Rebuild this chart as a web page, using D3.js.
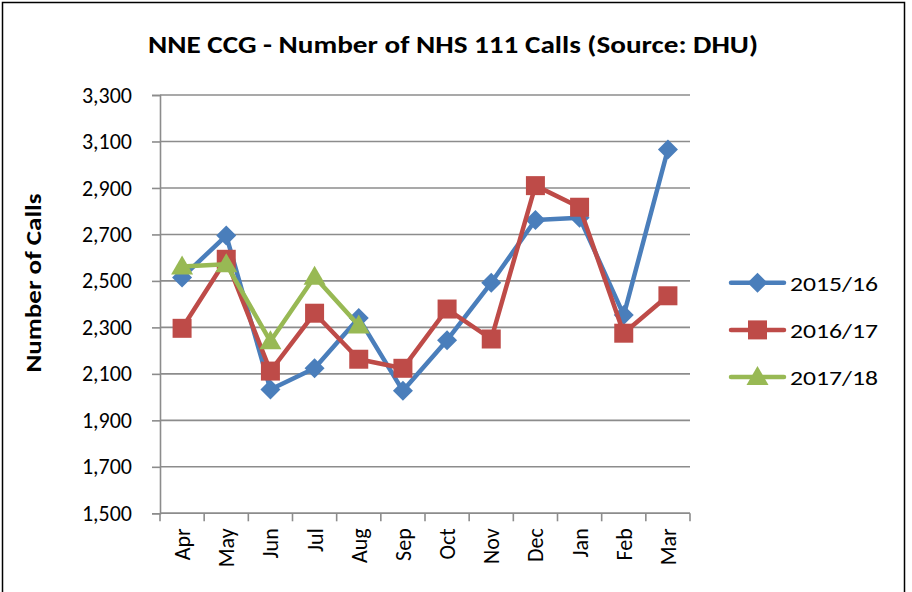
<!DOCTYPE html>
<html>
<head>
<meta charset="utf-8">
<script src="https://cdn.jsdelivr.net/npm/d3@7"></script>
<style>
  html, body { margin: 0; padding: 0; background: #fff; }
  svg { display: block; }
  text { font-family: Carlito, Calibri, "Open Sans", "Liberation Sans", sans-serif; fill: #000; }
</style>
</head>
<body>
<svg id="chart" width="912" height="592"></svg>
<script>
// Monthly NHS 111 call counts for NNE CCG, by financial year
const months = ["Apr", "May", "Jun", "Jul", "Aug", "Sep", "Oct", "Nov", "Dec", "Jan", "Feb", "Mar"];
const calls2015 = [2515, 2695, 2033, 2124, 2340, 2027, 2245, 2492, 2762, 2772, 2353, 3066];
const calls2016 = [2296, 2593, 2112, 2361, 2163, 2124, 2379, 2250, 2910, 2817, 2275, 2436];
const calls2017 = [2562, 2572, 2240, 2518, 2308];
const seriesNames = ["2015/16", "2016/17", "2017/18"];
const yTicks = [1500, 1700, 1900, 2100, 2300, 2500, 2700, 2900, 3100, 3300];
const chartTitle = "NNE CCG - Number of NHS 111 Calls (Source: DHU)";
const yTitle = "Number of Calls";

const series = [
  { name: seriesNames[0], values: calls2015, color: "#4A7EBB", shape: "diamond" },
  { name: seriesNames[1], values: calls2016, color: "#BE4B48", shape: "square" },
  { name: seriesNames[2], values: calls2017, color: "#98B954", shape: "triangle" }
];

const svg = d3.select("#chart");
const plot = { left: 160, right: 690, top: 95, bottom: 513.3 };

// Outer chart border
svg.append("rect")
  .attr("x", 2.5).attr("y", 2.5).attr("width", 902).attr("height", 620)
  .attr("fill", "#fff").attr("stroke", "#000").attr("stroke-width", 1.5);

const x = d3.scaleBand().domain(months).range([plot.left, plot.right]).padding(0);
const y = d3.scaleLinear().domain([1500, 3300]).range([plot.bottom, plot.top]);

// Horizontal gridlines
svg.append("g").selectAll("line").data(yTicks).join("line")
  .attr("x1", plot.left).attr("x2", plot.right)
  .attr("y1", d => y(d)).attr("y2", d => y(d))
  .attr("stroke", "#8C8C8C").attr("stroke-width", 1.6);

// Y axis
const yAxis = svg.append("g")
  .attr("transform", `translate(${plot.left},0)`)
  .call(d3.axisLeft(y).tickValues(yTicks).tickFormat(d3.format(",")).tickSize(8).tickPadding(20));
yAxis.select(".domain").attr("stroke", "#8C8C8C").attr("stroke-width", 1.6);
yAxis.selectAll(".tick line").attr("stroke", "#8C8C8C").attr("stroke-width", 1.6);
yAxis.selectAll(".tick text").attr("font-size", 22).attr("fill", "#000")
  .style("font-family", "Carlito, Calibri, 'Open Sans', sans-serif");

// X axis with ticks between categories
const xAxisG = svg.append("g").attr("transform", `translate(0,${plot.bottom})`);
xAxisG.append("line")
  .attr("x1", plot.left).attr("x2", plot.right)
  .attr("stroke", "#8C8C8C").attr("stroke-width", 1.6);
const bounds = months.map(m => x(m)).concat([plot.right]);
xAxisG.selectAll("line.tk").data(bounds).join("line").attr("class", "tk")
  .attr("x1", d => d).attr("x2", d => d).attr("y1", 0).attr("y2", 8)
  .attr("stroke", "#8C8C8C").attr("stroke-width", 1.6);
xAxisG.selectAll("text").data(months).join("text")
  .attr("transform", d => `translate(${x(d) + x.bandwidth() / 2 + 8},15) rotate(-90)`)
  .attr("text-anchor", "end")
  .attr("font-size", 22)
  .text(d => d);

// Marker shapes
function markerPath(shape) {
  if (shape === "diamond") return "M0,-10L10,0L0,10L-10,0Z";
  if (shape === "square") return "M-9.5,-9.5H9.5V9.5H-9.5Z";
  return "M0,-11L11,8L-11,8Z";
}

const cx = i => x(months[i]) + x.bandwidth() / 2;
const line = d3.line().x((d, i) => cx(i)).y(d => y(d));

series.forEach(s => {
  const g = svg.append("g");
  g.append("path").datum(s.values)
    .attr("d", line)
    .attr("fill", "none").attr("stroke", s.color)
    .attr("stroke-width", 4.5).attr("stroke-linejoin", "round").attr("stroke-linecap", "round");
  g.selectAll("path.mk").data(s.values).join("path").attr("class", "mk")
    .attr("transform", (d, i) => `translate(${cx(i)},${y(d)})`)
    .attr("d", markerPath(s.shape))
    .attr("fill", s.color);
});

// Title
svg.append("text")
  .attr("x", 453).attr("y", 53)
  .attr("text-anchor", "middle")
  .attr("font-size", 24).attr("font-weight", "bold")
  .attr("textLength", 610).attr("lengthAdjust", "spacingAndGlyphs")
  .text(chartTitle);

// Y axis title
svg.append("text")
  .attr("transform", "translate(41,283) rotate(-90)")
  .attr("text-anchor", "middle")
  .attr("font-size", 22).attr("font-weight", "bold")
  .attr("textLength", 179).attr("lengthAdjust", "spacingAndGlyphs")
  .text(yTitle);

// Legend
const legend = svg.append("g");
series.forEach((s, i) => {
  const ly = 282.7 + i * 47.2;
  const g = legend.append("g").attr("transform", `translate(0,${ly})`);
  g.append("line").attr("x1", 731).attr("x2", 784).attr("y1", 0).attr("y2", 0)
    .attr("stroke", s.color).attr("stroke-width", 4.5).attr("stroke-linecap", "round");
  g.append("path").attr("transform", "translate(757.5,0)").attr("d", markerPath(s.shape)).attr("fill", s.color);
  g.append("text").attr("x", 790).attr("y", 8).attr("font-size", 21)
    .attr("textLength", 88).attr("lengthAdjust", "spacingAndGlyphs")
    .text(s.name);
});
</script>
</body>
</html>
